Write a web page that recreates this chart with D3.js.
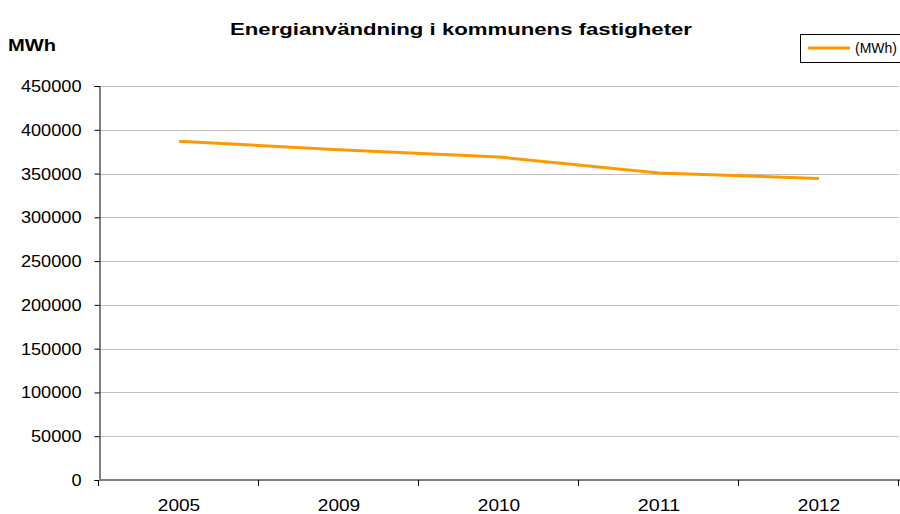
<!DOCTYPE html>
<html><head><meta charset="utf-8">
<script src="https://cdn.jsdelivr.net/npm/d3@7"></script>
<style>body{margin:0;background:#fff}svg{display:block;font-family:"Liberation Sans",Arial,sans-serif}</style>
</head><body><svg id="c" width="900" height="514"></svg>
<script>
const categories = ["2005","2009","2010","2011","2012"];
const values = [387000, 377300, 368900, 350700, 344300];
const yTicks = [0,50000,100000,150000,200000,250000,300000,350000,400000,450000];
const seriesName = "(MWh)";
const titleText = "Energianvändning i kommunens fastigheter";
const yAxisTitle = "MWh";

const svg = d3.select("#c");
const m = {l:99, r:1, t:86, b:34};
const W = 900, H = 514;
const x = d3.scaleBand().domain(categories).range([m.l, W - m.r]);
const y = d3.scaleLinear().domain([0,450000]).range([H - m.b, m.t]);

// gridlines
svg.append("g").selectAll("line").data(yTicks.filter(d=>d>0)).join("line")
  .attr("x1", m.l).attr("x2", W - m.r)
  .attr("y1", d=>Math.round(y(d))+0.5).attr("y2", d=>Math.round(y(d))+0.5)
  .attr("stroke","#c0c0c0").attr("stroke-width",1);

// y axis
const ya = svg.append("g").attr("transform",`translate(${m.l+0.5},0)`)
  .call(d3.axisLeft(y).tickValues(yTicks).tickFormat(d3.format("d")).tickSize(5).tickPadding(13));
ya.select(".domain").attr("stroke","#000");
ya.selectAll(".tick line").attr("stroke","#000");
ya.selectAll("text").attr("font-size","17px").attr("fill","#000")
  .attr("font-family","Liberation Sans, Arial, sans-serif")
  .attr("textLength", function(){ return this.textContent.length*10.1; })
  .attr("lengthAdjust","spacingAndGlyphs");

// x axis
const xa = svg.append("g").attr("transform",`translate(0,${y(0)})`)
  .call(d3.axisBottom(x).tickSize(0).tickPadding(19));
xa.select(".domain").remove();
xa.selectAll("text").attr("font-size","17px").attr("fill","#000")
  .attr("font-family","Liberation Sans, Arial, sans-serif")
  .attr("textLength", function(){ return this.textContent.length*10.6; })
  .attr("lengthAdjust","spacingAndGlyphs");
svg.append("line").attr("x1",m.l).attr("x2",W).attr("y1",y(0)).attr("y2",y(0))
  .attr("stroke","#808080").attr("stroke-width",2);
const bounds = categories.map(c=>x(c)).concat([x(categories[categories.length-1])+x.bandwidth()]);
svg.append("g").selectAll("line").data(bounds).join("line")
  .attr("x1",d=>Math.round(d)-0.5).attr("x2",d=>Math.round(d)-0.5)
  .attr("y1",y(0)).attr("y2",y(0)+6).attr("stroke","#000");

// line
const line = d3.line().x((d,i)=>x(categories[i])+x.bandwidth()/2).y(d=>y(d));
svg.append("path").datum(values).attr("d",line).attr("fill","none")
  .attr("stroke","#ff9900").attr("stroke-width",3).attr("stroke-linejoin","round");

// title
svg.append("text").attr("x",461).attr("y",35).attr("text-anchor","middle")
  .attr("font-size","16px").attr("font-weight","bold").attr("textLength",462).attr("lengthAdjust","spacingAndGlyphs")
  .text(titleText);
svg.append("text").attr("x",8).attr("y",51).attr("font-size","16px").attr("font-weight","bold")
  .attr("textLength",48).attr("lengthAdjust","spacingAndGlyphs").text(yAxisTitle);

// legend
svg.append("rect").attr("x",800.5).attr("y",34.5).attr("width",105).attr("height",28)
  .attr("fill","#fff").attr("stroke","#000");
svg.append("line").attr("x1",808).attr("x2",850).attr("y1",48).attr("y2",48)
  .attr("stroke","#ff9900").attr("stroke-width",3);
svg.append("text").attr("x",855).attr("y",53).attr("font-size","14px")
  .attr("textLength",42).attr("lengthAdjust","spacingAndGlyphs").text(seriesName);
</script></body></html>
